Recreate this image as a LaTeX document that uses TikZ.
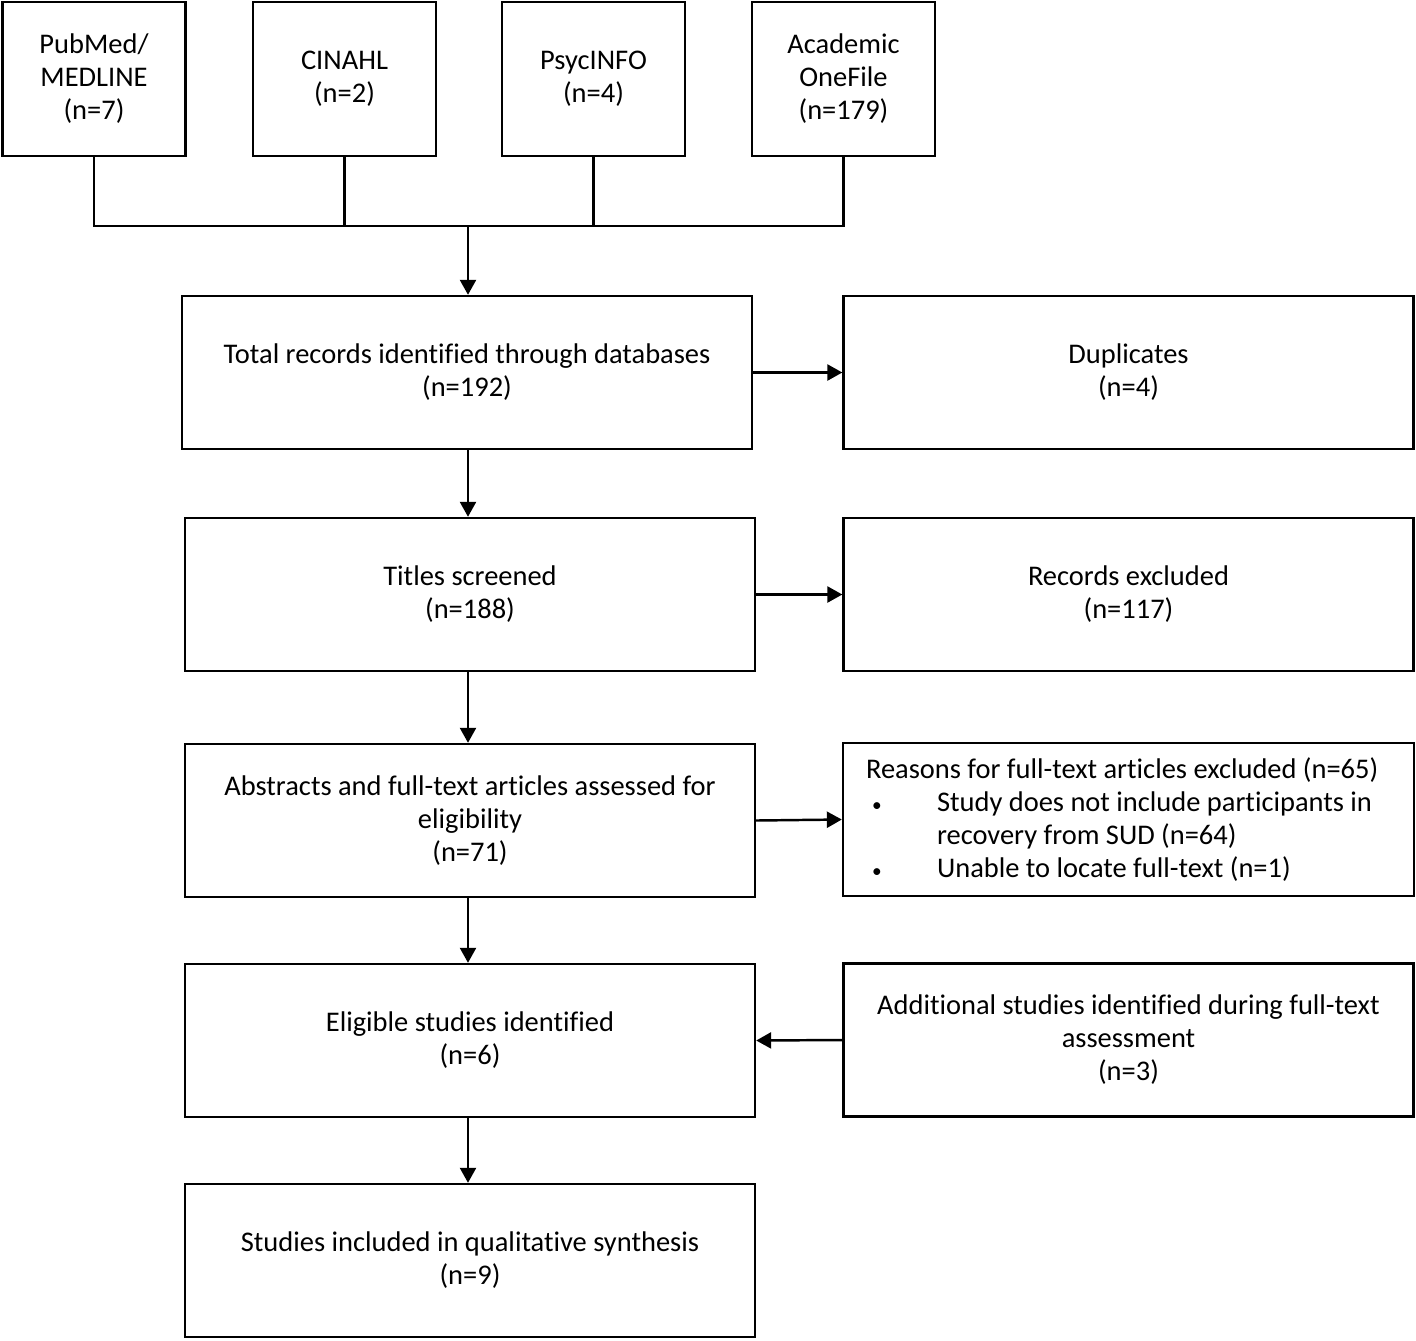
\documentclass[tikz,border=0pt]{standalone}
\usepackage{fontspec}
\setmainfont{Carlito}[Ligatures={NoCommon}]
\usetikzlibrary{arrows.meta}
\newcommand{\smallbul}{\makebox[1.3cm][l]{\fontsize{11}{11}\selectfont •}}
\begin{document}
\begin{tikzpicture}[x=0.02cm,y=-0.02cm,>={Triangle[length=0.3cm,width=0.32cm]}]
        \tikzstyle{srcbox}=[draw=black,line width=1.4pt,minimum width=3.66cm,minimum height=3.08cm,align=center,font=\fontsize{16.2}{18.8}\selectfont]
        \tikzstyle{box}=[draw=black,line width=1.4pt,minimum width=11.4cm,minimum height=3.06cm,align=center,font=\fontsize{16.2}{18.8}\selectfont]
        \tikzstyle{edge}=[draw,line width=1.4pt]
        \useasboundingbox (0,0) rectangle (1416,1340);
       \begin{scope}
         \node [srcbox] (pubmed) at (94,79) {PubMed/\\MEDLINE\\(n=7)};
         \node [srcbox] (cinahl) at (344.5,79) {CINAHL\\(n=2)};
         \node [srcbox] (psyc) at (593.5,79) {PsycINFO\\(n=4)};
         \node [srcbox] (acad) at (843.5,79) {Academic\\OneFile\\(n=179)};
         \coordinate (join) at (468,226);
         \node [box] (total) at (467,372.5) {Total records identified through databases\\(n=192)};
         \node [box] (dupl) at (1128.5,372.5) {Duplicates\\(n=4)};
         \node [box] (titles) at (470,594.5) {Titles screened\\(n=188)};
         \node [box] (recex) at (1128.5,594.5) {Records excluded\\(n=117)};
         \node [box] (abstr) at (470,820.5) {Abstracts and full-text articles assessed for\\eligibility\\(n=71)};
         \node [box,align=flush left,text width=10.5cm,inner xsep=0.46cm,inner ysep=0pt] (reasons) at (1128.5,819.5) {Reasons for full-text articles excluded (n=65)\\
           \hspace*{0.12cm}\smallbul Study does not include participants in\\
           \hspace*{1.42cm}recovery from SUD (n=64)\\
           \hspace*{0.12cm}\smallbul Unable to locate full-text (n=1)};
         \node [box] (elig) at (470,1040.5) {Eligible studies identified\\(n=6)};
         \node [box] (addit) at (1128.5,1040) {Additional studies identified during full-text\\assessment\\(n=3)};
         \node [box] (incl) at (470,1260.5) {Studies included in qualitative synthesis\\(n=9)};
         % database branches
         \path[edge] (pubmed.south) -- (pubmed.south |- join) -- (acad.south |- join) -- (acad.south);
         \path[edge] (cinahl.south) -- (cinahl.south |- join);
         \path[edge] (psyc.south) -- (psyc.south |- join);
         \path[edge,->] (join) -- (join |- total.north);
         % main flow
         \path[edge,->] (total.south -| join) -- (titles.north -| join);
         \path[edge,->] (titles.south -| join) -- (abstr.north -| join);
         \path[edge,->] (abstr.south -| join) -- (elig.north -| join);
         \path[edge,->] (elig.south -| join) -- (incl.north -| join);
         % side boxes
         \path[edge,->] (total.east) -- (dupl.west);
         \path[edge,->] (titles.east) -- (recex.west);
         \path[edge,->] (abstr.east) -- (reasons.west);
         \path[edge,->] (addit.west) -- (elig.east);
        \end{scope}
      \end{tikzpicture}
\end{document}
